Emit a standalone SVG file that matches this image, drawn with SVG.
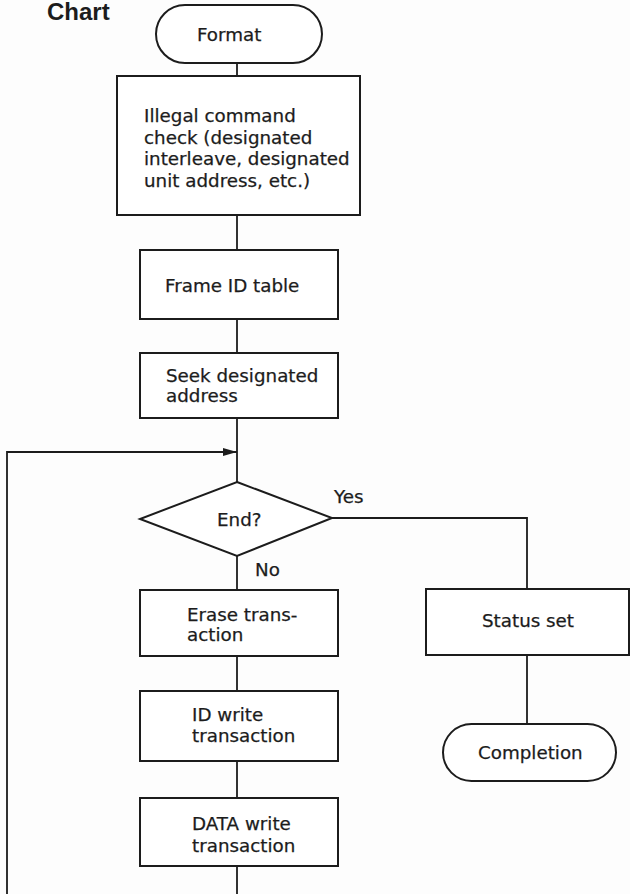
<svg xmlns="http://www.w3.org/2000/svg" width="630" height="894" viewBox="0 0 630 894">
  <style>
    .box { fill: #ffffff; stroke: #1c1c1c; stroke-width: 2; }
    .wire { fill: none; stroke: #1c1c1c; stroke-width: 1.8; }
    .lbl { font-family: "DejaVu Sans", "Liberation Sans", sans-serif; font-size: 18.3px; fill: #1c1c1c; stroke: #1c1c1c; stroke-width: 0.25; }
    .title { font-family: "Liberation Sans", "DejaVu Sans", sans-serif; font-size: 24px; font-weight: bold; fill: #1c1c1c; }
  </style>
  <defs>
    <marker id="arrow" viewBox="0 0 14 10" refX="14" refY="5" markerWidth="14" markerHeight="10" markerUnits="userSpaceOnUse" orient="auto">
      <path d="M0,1 L14,5 L0,9 Z" fill="#1c1c1c"/>
    </marker>
  </defs>
  <rect width="630" height="894" fill="#fdfdfd"/>

  <text class="title" x="47" y="20">Chart</text>

  <!-- connectors -->
  <g id="connectors">
    <line class="wire" x1="237" y1="63" x2="237" y2="76"/>
    <line class="wire" x1="237" y1="215" x2="237" y2="250"/>
    <line class="wire" x1="237" y1="319" x2="237" y2="353"/>
    <line class="wire" x1="237" y1="418" x2="237" y2="482"/>
    <line class="wire" x1="237" y1="556" x2="237" y2="590"/>
    <line class="wire" x1="237" y1="656" x2="237" y2="691"/>
    <line class="wire" x1="237" y1="761" x2="237" y2="798"/>
    <line class="wire" x1="237" y1="866" x2="237" y2="894"/>
    <!-- loop back into the decision -->
    <polyline class="wire" points="7,894 7,452 237,452" marker-end="url(#arrow)"/>
    <!-- Yes branch -->
    <polyline class="wire" points="332,518 527,518 527,589"/>
    <line class="wire" x1="527" y1="655" x2="527" y2="724"/>
    <text class="lbl" x="334" y="503">Yes</text>
    <text class="lbl" x="255" y="576">No</text>
  </g>

  <g id="format">
    <rect class="box" x="156" y="5" width="166" height="58" rx="29"/>
    <text class="lbl" x="197" y="41">Format</text>
  </g>

  <g id="illegal-check">
    <rect class="box" x="117" y="76" width="243" height="139"/>
    <text class="lbl" x="144" y="122">Illegal command</text>
    <text class="lbl" x="144" y="143.5">check (designated</text>
    <text class="lbl" x="144" y="165">interleave, designated</text>
    <text class="lbl" x="144" y="186.5">unit address, etc.)</text>
  </g>

  <g id="frame-id">
    <rect class="box" x="140" y="250" width="198" height="69"/>
    <text class="lbl" x="165" y="292">Frame ID table</text>
  </g>

  <g id="seek">
    <rect class="box" x="140" y="353" width="198" height="65"/>
    <text class="lbl" x="166" y="382">Seek designated</text>
    <text class="lbl" x="166" y="402">address</text>
  </g>

  <g id="end-decision">
    <polygon class="box" points="237,482 332,518 237,556 140,519"/>
    <text class="lbl" x="217" y="526">End?</text>
  </g>

  <g id="erase">
    <rect class="box" x="140" y="590" width="198" height="66"/>
    <text class="lbl" x="187" y="621">Erase trans-</text>
    <text class="lbl" x="187" y="641">action</text>
  </g>

  <g id="id-write">
    <rect class="box" x="140" y="691" width="198" height="70"/>
    <text class="lbl" x="192" y="721">ID write</text>
    <text class="lbl" x="192" y="742">transaction</text>
  </g>

  <g id="data-write">
    <rect class="box" x="140" y="798" width="198" height="68"/>
    <text class="lbl" x="192" y="830">DATA write</text>
    <text class="lbl" x="192" y="852">transaction</text>
  </g>

  <g id="status-set">
    <rect class="box" x="426" y="589" width="203" height="66"/>
    <text class="lbl" x="482" y="627">Status set</text>
  </g>

  <g id="completion">
    <rect class="box" x="443" y="724" width="173" height="57" rx="28.5"/>
    <text class="lbl" x="478" y="759">Completion</text>
  </g>
</svg>
